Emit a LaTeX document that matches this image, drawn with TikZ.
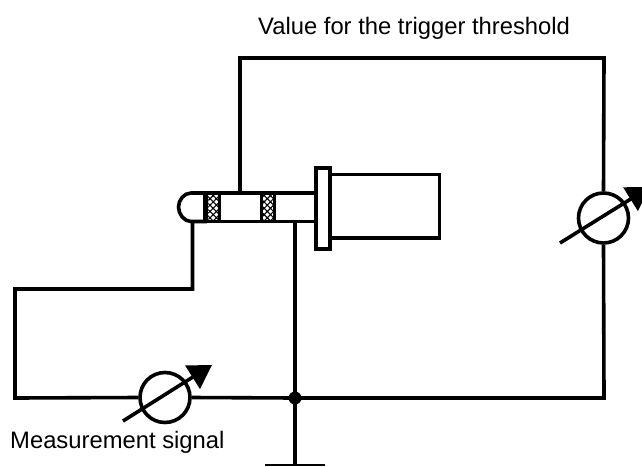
\documentclass[tikz,border=0pt]{standalone}
\usepackage{fontspec}
\setmainfont{Liberation Sans}
\usetikzlibrary{arrows.meta,patterns.meta}
\tikzset{
  wire/.style={line width=3.6pt,line cap=butt,line join=miter},
  part/.style={draw,line width=3.6pt,fill=white,inner sep=0pt},
  band/.style={draw,line width=3.6pt,preaction={fill=white},pattern={Hatch[angle=45,distance=4.5pt,line width=1.1pt]},inner sep=0pt,minimum width=13pt,minimum height=28.5pt},
  meter/.style={circle,draw,line width=3.6pt,fill=white,minimum size=50pt,inner sep=0pt},
  setarrow/.style={line width=3.6pt,-{Triangle[length=23pt,width=27pt]}},
  lab/.style={font=\fontsize{23.8}{27}\selectfont,text=black,inner sep=0pt}
}
\begin{document}
\begin{tikzpicture}[x=1pt,y=-1pt]
\clip (0,0) rectangle (642,466);
\coordinate (tl) at (240,58);
\coordinate (tr) at (604,58);
\coordinate (br) at (604,398);
\coordinate (bl) at (15,398);
\coordinate (ml) at (15,289);
\coordinate (mr) at (192.5,289);
\coordinate (ringtop) at (240,193);
\coordinate (tipbot) at (192.5,222);
\coordinate (slvbot) at (295,222);
\coordinate (gnd) at (295,465);
\coordinate (gl) at (265,465);
\coordinate (gr) at (325,465);
\node[meter] (m1) at (165,397.5) {};
\node[meter] (m2) at (603.5,218) {};
\node[circle,fill=black,minimum size=13pt,inner sep=0pt] (j) at (295,398) {};
\draw[wire] (ringtop) -- (tl) -- (tr) -- (m2.north);
\draw[wire] (m2.south) -- (br) -- (j.center);
\draw[wire] (j.center) -- (m1.east);
\draw[wire] (m1.west) -- (bl) -- (ml) -- (mr) -- (tipbot);
\draw[wire] (slvbot) -- (gnd);
\draw[line width=2.5pt] (gl) -- (gr);
\coordinate (a1s) at (123,421);
\coordinate (a1e) at (212,365);
\coordinate (a2s) at (560,243);
\coordinate (a2e) at (650,187);
\draw[setarrow] (a1s) -- (a1e);
\draw[setarrow] (a2s) -- (a2e);
\draw[line width=3.6pt,fill=white] (205,193) -- (191,193) .. controls (184,193) and (178.5,200) .. (178.5,207) .. controls (178.5,214) and (184,221.5) .. (191,221.5) -- (205,221.5) -- cycle;
\draw[line width=3.6pt,fill=white] (205,193) rectangle (316,221.5);
\node[band] (b1) at (213,207.3) {};
\node[band] (b2) at (268,207.3) {};
\node[part,minimum width=109pt,minimum height=63.5pt] (body) at (385,206.2) {};
\node[part,minimum width=14pt,minimum height=81pt] (fl) at (323,208.5) {};
\node[lab,anchor=base west] (t1) at (258,34) {Value for the trigger threshold};
\node[lab,anchor=base west] (t2) at (10,448) {Measurement signal};
\end{tikzpicture}
\end{document}
